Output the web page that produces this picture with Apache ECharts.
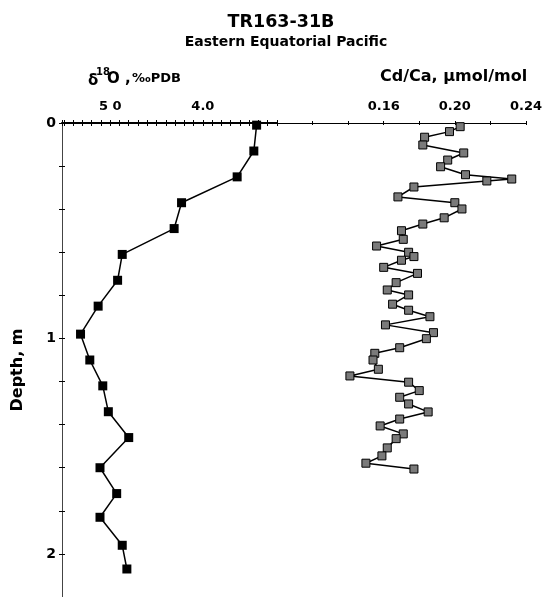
<!DOCTYPE html>
<html>
<head>
<meta charset="utf-8">
<script src="https://cdn.jsdelivr.net/npm/echarts@6/dist/echarts.min.js"></script>
<style>
  html, body { margin: 0; padding: 0; background: #fff; }
  #chart { width: 545px; height: 597px; }
</style>
</head>
<body>
<div id="chart"></div>
<script>
// d18O core record (left panel)
const depthD18O = [0.01, 0.13, 0.25, 0.37, 0.49, 0.61, 0.73, 0.85, 0.98, 1.10, 1.22, 1.34, 1.46, 1.60, 1.72, 1.83, 1.96, 2.07]
const d18O = [3.42, 3.45, 3.63, 4.23, 4.31, 4.87, 4.92, 5.13, 5.32, 5.22, 5.08, 5.02, 4.80, 5.11, 4.93, 5.11, 4.87, 4.82]

// Cd/Ca record (right panel)
const depthCdCa = [0.017, 0.040, 0.066, 0.102, 0.139, 0.172, 0.203, 0.240, 0.260, 0.269, 0.297, 0.343, 0.370, 0.399,
  0.440, 0.469, 0.500, 0.540, 0.571, 0.600, 0.620, 0.637, 0.670, 0.698, 0.741, 0.775, 0.798, 0.841, 0.869, 0.899,
  0.937, 0.973, 1.001, 1.043, 1.069, 1.100, 1.143, 1.174, 1.203, 1.242, 1.273, 1.304, 1.341, 1.374, 1.406, 1.443,
  1.465, 1.508, 1.545, 1.579, 1.606]
const cdCa = [0.203, 0.197, 0.183, 0.182, 0.205, 0.196, 0.192, 0.206, 0.232, 0.218, 0.177, 0.168, 0.200, 0.204,
  0.194, 0.182, 0.170, 0.171, 0.156, 0.174, 0.177, 0.170, 0.160, 0.179, 0.167, 0.162, 0.174, 0.165, 0.174, 0.186,
  0.161, 0.188, 0.184, 0.169, 0.155, 0.154, 0.157, 0.141, 0.174, 0.180, 0.169, 0.174, 0.185, 0.169, 0.158, 0.171,
  0.167, 0.162, 0.159, 0.150, 0.177]

// tick labels
const d18OTickValues = [5.0, 4.0]
const d18OTickLabels = ['5 0', '4.0']
const cdTickValues = [0.16, 0.20, 0.24]
const cdTickLabels = ['0.16', '0.20', '0.24']
const depthTickValues = [0, 1, 2]
const depthTickLabels = ['0', '1', '2']

const FONT = 'DejaVu Sans'

function pickLabel (values, labels, digits) {
  return function (v) {
    const f = Math.pow(10, digits)
    const r = Math.round(v * f) / f
    const i = values.findIndex(t => Math.abs(t - r) < 1e-9)
    return i >= 0 ? labels[i] : ''
  }
}

function pairs (xs, ys) {
  return xs.map((x, i) => [x, ys[i]])
}

const myChart = echarts.init(document.getElementById('chart'), null, { renderer: 'canvas' })

const labelStyle = { color: '#000', fontFamily: FONT, fontWeight: 'bold', fontSize: 13 }

myChart.setOption({
  animation: false,
  backgroundColor: '#fff',
  grid: [
    { left: 62, top: 123, width: 215, height: 474 },
    { left: 277, top: 123, width: 251, height: 474 }
  ],
  xAxis: [
    { // d18O, reversed
      gridIndex: 0, type: 'value', position: 'top', inverse: true,
      min: 3.2, max: 5.52, interval: 0.1,
      axisLine: { show: true, lineStyle: { color: '#000', width: 2 } },
      axisTick: { show: true, length: 3, lineStyle: { color: '#000', width: 1 } },
      axisLabel: { margin: 10, ...labelStyle, formatter: pickLabel(d18OTickValues, d18OTickLabels, 1) },
      splitLine: { show: false }
    },
    { // inner half of crossing ticks
      gridIndex: 0, type: 'value', position: 'top', inverse: true,
      min: 3.2, max: 5.52, interval: 0.1,
      axisLine: { show: false },
      axisTick: { show: true, inside: true, length: 3, lineStyle: { color: '#000', width: 1 } },
      axisLabel: { show: false },
      splitLine: { show: false }
    },
    { // Cd/Ca
      gridIndex: 1, type: 'value', position: 'top',
      min: 0.10, max: 0.24, interval: 0.02,
      axisLine: { show: true, lineStyle: { color: '#000', width: 1 } },
      axisTick: { show: true, length: 2, lineStyle: { color: '#000', width: 1 } },
      axisLabel: { margin: 10, ...labelStyle, formatter: pickLabel(cdTickValues, cdTickLabels, 2) },
      splitLine: { show: false }
    },
    {
      gridIndex: 1, type: 'value', position: 'top',
      min: 0.10, max: 0.24, interval: 0.02,
      axisLine: { show: false },
      axisTick: { show: true, inside: true, length: 2, lineStyle: { color: '#000', width: 1 } },
      axisLabel: { show: false },
      splitLine: { show: false }
    }
  ],
  yAxis: [
    { // depth
      gridIndex: 0, type: 'value', position: 'left', inverse: true,
      min: 0, max: 2.2, interval: 0.2,
      axisLine: { show: true, lineStyle: { color: '#444', width: 1 } },
      axisTick: { show: true, length: 3, lineStyle: { color: '#000', width: 1 } },
      axisLabel: { margin: 6, ...labelStyle, fontSize: 14, formatter: pickLabel(depthTickValues, depthTickLabels, 1) },
      splitLine: { show: false }
    },
    {
      gridIndex: 0, type: 'value', position: 'left', offset: 0, inverse: true,
      min: 0, max: 2.2, interval: 0.2,
      axisLine: { show: false },
      axisTick: { show: true, inside: true, length: 3, lineStyle: { color: '#000', width: 1 } },
      axisLabel: { show: false },
      splitLine: { show: false }
    },
    {
      gridIndex: 1, type: 'value', inverse: true,
      min: 0, max: 2.2, show: false
    }
  ],
  graphic: [
    { type: 'text', x: 281, y: 22, style: { text: 'TR163-31B', fill: '#000', font: 'bold 17.5px "' + FONT + '"', align: 'center', verticalAlign: 'middle' } },
    { type: 'text', x: 286, y: 42, style: { text: 'Eastern Equatorial Pacific', fill: '#000', font: 'bold 14px "' + FONT + '"', align: 'center', verticalAlign: 'middle' } },
    { type: 'text', x: 88, y: 81, style: { text: 'δ', fill: '#000', font: 'bold 15px "' + FONT + '"', align: 'left', verticalAlign: 'middle' } },
    { type: 'text', x: 96, y: 72, style: { text: '18', fill: '#000', font: 'bold 10px "' + FONT + '"', align: 'left', verticalAlign: 'middle' } },
    { type: 'text', x: 107, y: 79, style: { text: 'O ,', fill: '#000', font: 'bold 15px "' + FONT + '"', align: 'left', verticalAlign: 'middle' } },
    { type: 'text', x: 132, y: 79, style: { text: '‰PDB', fill: '#000', font: 'bold 13px "' + FONT + '"', align: 'left', verticalAlign: 'middle' } },
    { type: 'text', x: 380, y: 77, style: { text: 'Cd/Ca, µmol/mol', fill: '#000', font: 'bold 16px "' + FONT + '"', align: 'left', verticalAlign: 'middle' } },
    { type: 'text', x: 18, y: 370, rotation: Math.PI / 2, style: { text: 'Depth, m', fill: '#000', font: 'bold 16px "' + FONT + '"', align: 'center', verticalAlign: 'middle' } }
  ],
  series: [
    {
      name: 'd18O',
      type: 'line',
      xAxisIndex: 0,
      yAxisIndex: 0,
      clip: false,
      symbol: 'rect',
      symbolSize: 9,
      itemStyle: { color: '#000' },
      lineStyle: { color: '#000', width: 1.5 },
      data: pairs(d18O, depthD18O)
    },
    {
      name: 'Cd/Ca',
      type: 'line',
      xAxisIndex: 2,
      yAxisIndex: 2,
      clip: false,
      symbol: 'rect',
      symbolSize: 8,
      itemStyle: { color: '#7a7a7a', borderColor: '#000', borderWidth: 1 },
      lineStyle: { color: '#000', width: 1.5 },
      data: pairs(cdCa, depthCdCa)
    }
  ]
})
</script>
</body>
</html>
